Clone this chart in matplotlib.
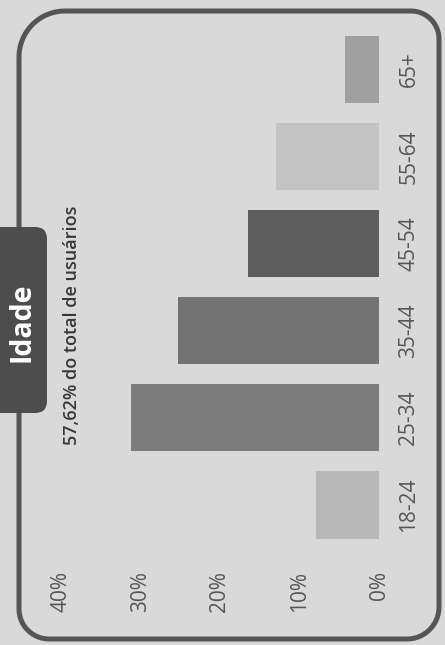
import matplotlib
matplotlib.use("Agg")
import matplotlib.pyplot as plt
import numpy as np
from matplotlib.patches import FancyBboxPatch, PathPatch
from matplotlib.path import Path

age_groups = ["18-24", "25-34", "35-44", "45-54", "55-64", "65+"]
share_pct = [7.9, 31.2, 25.3, 16.5, 13.0, 4.3]
bar_colors = ["#b8b8b8", "#7c7c7c", "#737373", "#5e5e5e", "#c3c3c3", "#a0a0a0"]
value_ticks = [0, 10, 20, 30, 40]
value_tick_labels = ["0%", "10%", "20%", "30%", "40%"]
title_text = "Idade"
subtitle_text = "57,62% do total de usuários"

plt.rcParams['font.family'] = ['Open Sans', 'DejaVu Sans']

def Rounded_Frame_Path(x0, y0, x1, y1, r_tl, r_tr, r_br, r_bl):
    # corners go clockwise starting top-left; each is a quarter circle
    pts = []
    corners = [(x0 + r_tl, y1 - r_tl, r_tl, 180, 90),
               (x1 - r_tr, y1 - r_tr, r_tr, 90, 0),
               (x1 - r_br, y0 + r_br, r_br, 0, -90),
               (x0 + r_bl, y0 + r_bl, r_bl, -90, -180)]
    for cx, cy, r, a0, a1 in corners:
        angles = np.radians(np.linspace(a0, a1, 20))
        for a in angles:
            pts.append((cx + r * np.cos(a), cy + r * np.sin(a)))
    pts.append(pts[0])
    return Path(pts)

def Draw_Frame(fig):
    frame_path = Rounded_Frame_Path(0.19, 0.06, 4.39, 6.34, 0.46, 0.28, 0.32, 0.30)
    frame = PathPatch(frame_path, transform=fig.dpi_scale_trans, facecolor="none",
                      edgecolor="#555555", linewidth=3.6, zorder=1)
    fig.patches.append(frame)
    # dark tab with the title
    tab = FancyBboxPatch((-0.3, 2.32), 0.77, 1.86,
                         boxstyle="round,pad=0,rounding_size=0.12",
                         transform=fig.dpi_scale_trans, facecolor="#4d4d4d",
                         edgecolor="none", zorder=2)
    fig.patches.append(tab)
    fig.text(0.22 / 4.45, 3.23 / 6.45, title_text, rotation=90, ha="center", va="center",
             color="white", fontsize=20.5, fontweight="bold", zorder=3)
    fig.text(72 / 445, 200 / 645, subtitle_text, rotation=90, ha="center", va="bottom",
             color="#383838", fontsize=13, fontweight="semibold")

def Draw_Bars(fig):
    ax = fig.add_axes([61 / 445, 0.1495, 318 / 445, 0.811])
    ax.set_facecolor("none")
    positions = list(range(len(age_groups)))
    ax.barh(positions, share_pct, height=0.77, color=bar_colors)
    ax.set_xlim(40, 0)
    ax.set_ylim(-0.5, len(age_groups) - 0.5)
    ax.set_xticks(value_ticks)
    ax.set_xticklabels(value_tick_labels, rotation=90, va="top", ha="center")
    ax.set_yticks(positions)
    ax.set_yticklabels(age_groups, rotation=90, va="center", ha="left")
    ax.yaxis.tick_right()
    ax.tick_params(axis="x", length=0, pad=16, labelsize=15, labelcolor="#555555")
    ax.tick_params(axis="y", length=0, pad=14, labelsize=15, labelcolor="#555555")
    for side in ["top", "bottom", "left", "right"]:
        ax.spines[side].set_visible(False)
    return ax

def Make_Chart():
    fig = plt.figure(figsize=(4.45, 6.45), dpi=100, facecolor="#d9d9d9")
    Draw_Frame(fig)
    Draw_Bars(fig)
    fig.savefig("out.png", dpi=100, facecolor=fig.get_facecolor())

if __name__ == '__main__':
    Make_Chart()
